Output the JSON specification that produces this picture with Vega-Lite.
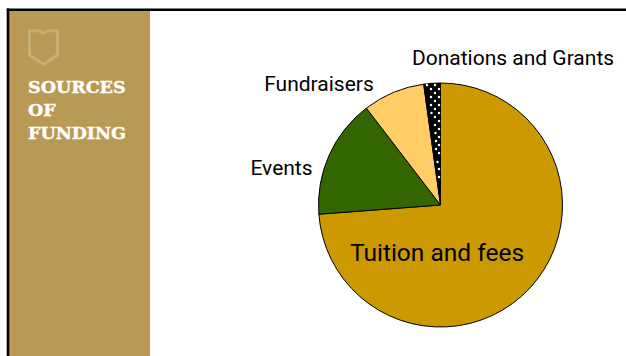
{
  "$schema": "https://vega.github.io/schema/vega-lite/v6.json",
  "width": 626,
  "height": 356,
  "autosize": "none",
  "padding": 0,
  "background": "white",
  "view": {"stroke": null},
  "datasets": {
    "funding": [
      {"source": "Tuition and fees", "share": 73.8, "rank": 1, "cx": 440.5, "cy": 205},
      {"source": "Events", "share": 15.8, "rank": 2, "cx": 440.5, "cy": 205},
      {"source": "Fundraisers", "share": 8.2, "rank": 3, "cx": 440.5, "cy": 205},
      {"source": "Donations and Grants", "share": 2.2, "rank": 4, "cx": 440.5, "cy": 205}
    ],
    "speckle": [
      {"px": 427, "py": 85}, {"px": 435, "py": 85}, {"px": 431, "py": 89}, {"px": 439, "py": 89},
      {"px": 435, "py": 93}, {"px": 431, "py": 97}, {"px": 439, "py": 97}, {"px": 435, "py": 101},
      {"px": 431, "py": 105}, {"px": 439, "py": 105}, {"px": 435, "py": 109}, {"px": 431.5, "py": 113},
      {"px": 439, "py": 113}, {"px": 435, "py": 117}, {"px": 439, "py": 121}, {"px": 435, "py": 125},
      {"px": 439, "py": 129}, {"px": 435.5, "py": 133}, {"px": 439, "py": 137}, {"px": 436, "py": 141},
      {"px": 439, "py": 145}, {"px": 436, "py": 149}, {"px": 439, "py": 153}, {"px": 437.5, "py": 162},
      {"px": 439, "py": 169}, {"px": 439, "py": 177}
    ]
  },
  "layer": [
    {
      "data": {"values": [{"left": 9, "right": 150, "top": 10, "bottom": 356}]},
      "mark": {"type": "rect", "color": "#b99a55"},
      "encoding": {
        "x": {"field": "left", "type": "quantitative", "scale": {"domain": [0, 626], "nice": false, "zero": false}, "axis": null},
        "x2": {"field": "right"},
        "y": {"field": "top", "type": "quantitative", "scale": {"domain": [356, 0], "nice": false, "zero": false}, "axis": null},
        "y2": {"field": "bottom"}
      }
    },
    {
      "data": {"values": [{"x0": 6.8, "x1": 626, "y0": 9.7, "y1": 9.7}, {"x0": 8, "x1": 8, "y0": 8.5, "y1": 356}]},
      "mark": {"type": "rule", "color": "#000000", "strokeWidth": 2.6},
      "encoding": {
        "x": {"field": "x0", "type": "quantitative", "axis": null},
        "x2": {"field": "x1"},
        "y": {"field": "y0", "type": "quantitative", "axis": null},
        "y2": {"field": "y1"}
      }
    },
    {
      "data": {"values": [{"ex": 43.5, "ey": 47.5}]},
      "mark": {
        "type": "point",
        "shape": "M-1,-1.2L-0.32,-1.2L0,-1.02L0.32,-1.2L1,-1.2L1,0.55L0,1.2L-1,0.55Z",
        "size": 784,
        "filled": false,
        "stroke": "#c8b071",
        "strokeWidth": 3,
        "opacity": 1
      },
      "encoding": {
        "x": {"field": "ex", "type": "quantitative", "axis": null},
        "y": {"field": "ey", "type": "quantitative", "axis": null}
      }
    },
    {
      "data": {"values": [
        {"line": "SOURCES", "lx": 28, "ly": 88},
        {"line": "OF", "lx": 28, "ly": 111},
        {"line": "FUNDING", "lx": 28, "ly": 134}
      ]},
      "mark": {"type": "text", "align": "left", "baseline": "middle", "font": "DejaVu Serif", "fontWeight": "bold", "fontSize": 17.5, "color": "#ffffff", "stroke": "#ffffff", "strokeWidth": 0.4},
      "encoding": {
        "x": {"field": "lx", "type": "quantitative", "axis": null},
        "y": {"field": "ly", "type": "quantitative", "axis": null},
        "text": {"field": "line"}
      }
    },
    {
      "data": {"name": "funding"},
      "mark": {"type": "arc", "outerRadius": 122, "stroke": "#000000", "strokeWidth": 1},
      "encoding": {
        "x": {"field": "cx", "type": "quantitative", "axis": null},
        "y": {"field": "cy", "type": "quantitative", "axis": null},
        "theta": {"field": "share", "type": "quantitative", "stack": true},
        "order": {"field": "rank"},
        "color": {
          "field": "source",
          "type": "nominal",
          "legend": null,
          "scale": {
            "domain": ["Tuition and fees", "Events", "Fundraisers", "Donations and Grants"],
            "range": ["#cc9900", "#336600", "#ffcc66", "#000000"]
          }
        }
      }
    },
    {
      "data": {"name": "speckle"},
      "mark": {"type": "point", "shape": "circle", "filled": true, "color": "#ffffff", "size": 6, "opacity": 1},
      "encoding": {
        "x": {"field": "px", "type": "quantitative", "axis": null},
        "y": {"field": "py", "type": "quantitative", "axis": null}
      }
    },
    {
      "data": {"values": [
        {"label": "Donations and Grants", "tx": 513, "ty": 59, "fs": 21},
        {"label": "Fundraisers", "tx": 319, "ty": 85, "fs": 21},
        {"label": "Events", "tx": 281.5, "ty": 169, "fs": 21},
        {"label": "Tuition and fees", "tx": 437, "ty": 254, "fs": 24.5}
      ]},
      "mark": {"type": "text", "align": "center", "baseline": "middle", "font": "Roboto", "color": "#000000"},
      "encoding": {
        "x": {"field": "tx", "type": "quantitative", "axis": null},
        "y": {"field": "ty", "type": "quantitative", "axis": null},
        "text": {"field": "label"},
        "size": {"field": "fs", "type": "quantitative", "scale": null}
      }
    }
  ]
}
